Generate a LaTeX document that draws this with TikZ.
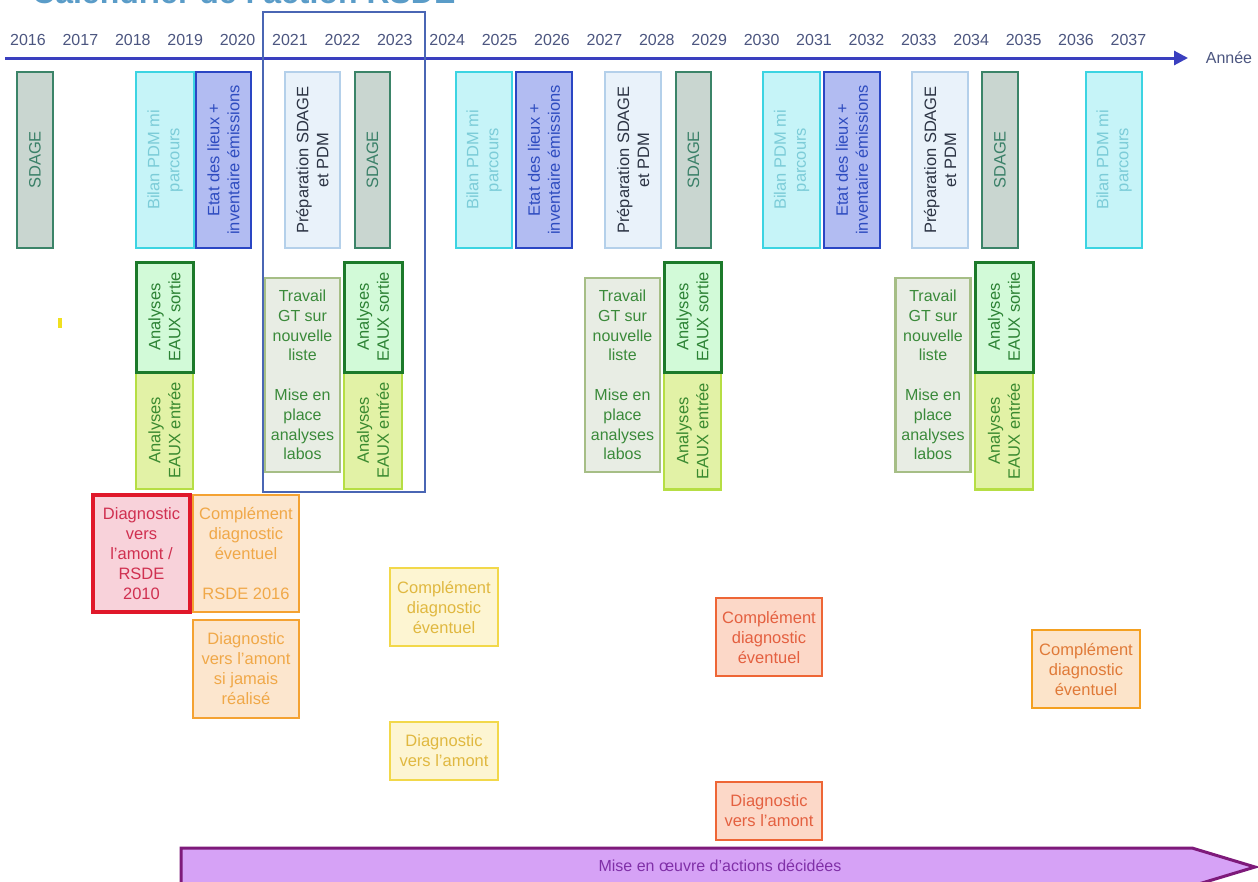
\documentclass[tikz,border=0pt]{standalone}
\usepackage{fontspec}
\setmainfont{Liberation Sans}
\usetikzlibrary{arrows.meta}
\definecolor{axisblue}{HTML}{3A3FBF}
\definecolor{yeartext}{HTML}{4C5680}
\definecolor{hlblue}{HTML}{4A66B4}
\definecolor{titleblue}{HTML}{5A9CC8}
\definecolor{sdfill}{HTML}{C9D6D0}
\definecolor{sddraw}{HTML}{3B8468}
\definecolor{sdtext}{HTML}{3A8068}
\definecolor{bifill}{HTML}{C6F4F8}
\definecolor{bidraw}{HTML}{3CD4E2}
\definecolor{bitext}{HTML}{7CCCD8}
\definecolor{etfill}{HTML}{B2BCF2}
\definecolor{etdraw}{HTML}{2A46C4}
\definecolor{ettext}{HTML}{2E4CC0}
\definecolor{prfill}{HTML}{E9F2FA}
\definecolor{prdraw}{HTML}{B4D0EA}
\definecolor{prtext}{HTML}{2C3444}
\definecolor{sofill}{HTML}{D2FAD8}
\definecolor{sodraw}{HTML}{1C7A2A}
\definecolor{sotext}{HTML}{2C8234}
\definecolor{enfill}{HTML}{E2F2A6}
\definecolor{endraw}{HTML}{B6DE44}
\definecolor{entext}{HTML}{3A8A30}
\definecolor{trfill}{HTML}{E8EDE4}
\definecolor{trdraw}{HTML}{A6BE86}
\definecolor{trtext}{HTML}{3A8A3A}
\definecolor{rdfill}{HTML}{F8D2DA}
\definecolor{rddraw}{HTML}{E0182A}
\definecolor{rdtext}{HTML}{D03050}
\definecolor{orfill}{HTML}{FCE6CE}
\definecolor{ordraw}{HTML}{F4A232}
\definecolor{ortext}{HTML}{F0A848}
\definecolor{ylfill}{HTML}{FDF5D2}
\definecolor{yldraw}{HTML}{F2D84A}
\definecolor{yltext}{HTML}{E0B840}
\definecolor{rofill}{HTML}{FCD8C8}
\definecolor{rodraw}{HTML}{EE6636}
\definecolor{rotext}{HTML}{E46040}
\definecolor{otfill}{HTML}{FCE4CA}
\definecolor{otdraw}{HTML}{F4A020}
\definecolor{ottext}{HTML}{E07A38}
\definecolor{pufill}{HTML}{D6A2F6}
\definecolor{pudraw}{HTML}{7E1A7A}
\definecolor{putext}{HTML}{8030A8}
\definecolor{marky}{HTML}{F0E020}
\tikzset{
  boxbase/.style={draw, inner sep=1pt, align=center, font=\fontsize{16.5}{20}\selectfont},
  topbox/.style={boxbase, rotate=90, minimum width=176pt, line width=2.6pt},
  sdagebox/.style={topbox, fill=sdfill, draw=sddraw, text=sdtext},
  bilanbox/.style={topbox, fill=bifill, draw=bidraw, text=bitext},
  etatbox/.style={topbox, fill=etfill, draw=etdraw, text=ettext},
  prepbox/.style={topbox, fill=prfill, draw=prdraw, text=prtext},
  sortiebox/.style={boxbase, rotate=90, minimum width=110pt, minimum height=57pt, line width=3pt, fill=sofill, draw=sodraw, text=sotext},
  entreebox/.style={boxbase, rotate=90, minimum width=117pt, minimum height=57pt, line width=2.6pt, fill=enfill, draw=endraw, text=entext},
  travailbox/.style={boxbase, minimum width=75pt, minimum height=194pt, line width=2.6pt, fill=trfill, draw=trdraw, text=trtext, font=\fontsize{16}{19.8}\selectfont},
  lowbox/.style={boxbase, line width=2.8pt, inner sep=0pt},
  redbox/.style={lowbox, line width=4pt, fill=rdfill, draw=rddraw, text=rdtext},
  orbox/.style={lowbox, fill=orfill, draw=ordraw, text=ortext},
  ylbox/.style={lowbox, fill=ylfill, draw=yldraw, text=yltext},
  robox/.style={lowbox, fill=rofill, draw=rodraw, text=rotext},
  otbox/.style={lowbox, fill=otfill, draw=otdraw, text=ottext},
  yearlbl/.style={text=yeartext, inner sep=0pt, font=\fontsize{16}{18}\selectfont},
}
\begin{document}
\begin{tikzpicture}[x=1pt,y=-1pt]
\useasboundingbox (0,0) rectangle (1258,881);
\clip (0,0) rectangle (1258,881);
\fill[white] (0,0) rectangle (1258,881);

% title (cut off at the top)
\node[anchor=base west, inner sep=0pt, text=titleblue, font=\bfseries\fontsize{32}{36}\selectfont] (title) at (32,3) {Calendrier de l'action RSDE};

% years
\foreach \n [count=\i from 0] in {2016,...,2037}
  \node[yearlbl] (y\n) at ({28+52.4*\i},40) {\n};

% axis
\coordinate (axstart) at (5,58);
\coordinate (axend) at (1188,58);
\draw[axisblue, line width=3pt, -{Triangle[length=14pt,width=14pt]}] (axstart) -- (axend);
\node[text=yeartext, inner sep=0pt, font=\fontsize{16}{18}\selectfont] (annee) at (1229,58) {Année};

% top row
\node[sdagebox, minimum height=36pt] (sd1) at (35,160) {SDAGE};
\node[bilanbox, minimum height=58pt] (bi1) at (165,160) {Bilan PDM mi\\parcours};
\node[etatbox, minimum height=55pt] (et1) at (223.5,160) {Etat des lieux +\\inventaire émissions};
\node[prepbox, minimum height=55pt] (pr1) at (312.5,160) {Préparation SDAGE\\et PDM};
\node[sdagebox, minimum height=35pt] (sd2) at (372.5,160) {SDAGE};
\node[bilanbox, minimum height=56pt] (bi2) at (484,160) {Bilan PDM mi\\parcours};
\node[etatbox, minimum height=56pt] (et2) at (544,160) {Etat des lieux +\\inventaire émissions};
\node[prepbox, minimum height=56pt] (pr2) at (633,160) {Préparation SDAGE\\et PDM};
\node[sdagebox, minimum height=35pt] (sd3) at (693.5,160) {SDAGE};
\node[bilanbox, minimum height=57pt] (bi3) at (791.5,160) {Bilan PDM mi\\parcours};
\node[etatbox, minimum height=56pt] (et3) at (852,160) {Etat des lieux +\\inventaire émissions};
\node[prepbox, minimum height=56pt] (pr3) at (940,160) {Préparation SDAGE\\et PDM};
\node[sdagebox, minimum height=36pt] (sd4) at (1000,160) {SDAGE};
\node[bilanbox, minimum height=56pt] (bi4) at (1114,160) {Bilan PDM mi\\parcours};

% small yellow mark
\fill[marky] (58,318) rectangle (62,328);

% analyses and travail GT
\node[entreebox] (en1) at (164.5,430.5) {Analyses\\EAUX entrée};
\node[sortiebox] (so1) at (164.5,317) {Analyses\\EAUX sortie};
\node[travailbox] (tr1) at (302.5,375) {Travail\\GT sur\\nouvelle\\liste\\[19.8pt]Mise en\\place\\analyses\\labos};
\node[entreebox, minimum height=58pt] (en2) at (373,430.5) {Analyses\\EAUX entrée};
\node[sortiebox, minimum height=58pt] (so2) at (373,317) {Analyses\\EAUX sortie};
\node[travailbox] (tr2) at (622.5,375) {Travail\\GT sur\\nouvelle\\liste\\[19.8pt]Mise en\\place\\analyses\\labos};
\node[entreebox] (en3) at (692.5,431) {Analyses\\EAUX entrée};
\node[sortiebox] (so3) at (692.5,317) {Analyses\\EAUX sortie};
\node[travailbox] (tr3) at (933,375) {Travail\\GT sur\\nouvelle\\liste\\[19.8pt]Mise en\\place\\analyses\\labos};
\node[entreebox, minimum height=58pt] (en4) at (1004,431) {Analyses\\EAUX entrée};
\node[sortiebox, minimum height=58pt] (so4) at (1004,317) {Analyses\\EAUX sortie};

% highlighted period
\draw[hlblue, line width=1.8pt] (263,12) rectangle (425,492);

% diagnostics
\node[redbox, minimum width=97pt, minimum height=117pt] (dg1) at (141.5,553.5) {Diagnostic\\vers\\l'amont /\\RSDE\\2010};
\node[orbox, minimum width=106pt, minimum height=117pt] (cp1) at (246,553.5) {Complément\\diagnostic\\éventuel\\[20pt]RSDE 2016};
\node[orbox, minimum width=106pt, minimum height=98pt] (dg2) at (246,669) {Diagnostic\\vers l'amont\\si jamais\\réalisé};
\node[ylbox, minimum width=108pt, minimum height=78pt] (cp2) at (444,607) {Complément\\diagnostic\\éventuel};
\node[ylbox, minimum width=108pt, minimum height=58pt] (dg3) at (444,751) {Diagnostic\\vers l'amont};
\node[robox, minimum width=106pt, minimum height=78pt] (cp3) at (769,637) {Complément\\diagnostic\\éventuel};
\node[robox, minimum width=106pt, minimum height=58pt] (dg4) at (769,811) {Diagnostic\\vers l'amont};
\node[otbox, minimum width=108pt, minimum height=78pt] (cp4) at (1086,669) {Complément\\diagnostic\\éventuel};

% implementation arrow
\filldraw[fill=pufill, draw=pudraw, line width=3pt, line join=miter]
  (181,848) -- (1192,848) -- (1255,867) -- (1192,886) -- (181,886) -- cycle;
\node[text=putext, inner sep=0pt, font=\fontsize{16}{18}\selectfont] (mise) at (720,866) {Mise en œuvre d'actions décidées};
\end{tikzpicture}
\end{document}
